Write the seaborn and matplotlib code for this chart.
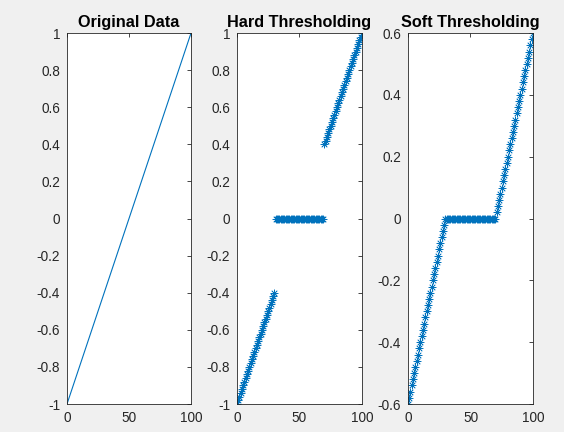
import matplotlib
matplotlib.use('Agg')
import matplotlib.pyplot as plt
import seaborn as sns

sns.set_style('white')
plt.rcParams['font.family'] = ['Liberation Sans', 'DejaVu Sans']

x = list(range(101))
original = [-1.00, -0.98, -0.96, -0.94, -0.92, -0.90, -0.88, -0.86, -0.84, -0.82,
            -0.80, -0.78, -0.76, -0.74, -0.72, -0.70, -0.68, -0.66, -0.64, -0.62,
            -0.60, -0.58, -0.56, -0.54, -0.52, -0.50, -0.48, -0.46, -0.44, -0.42,
            -0.40, -0.38, -0.36, -0.34, -0.32, -0.30, -0.28, -0.26, -0.24, -0.22,
            -0.20, -0.18, -0.16, -0.14, -0.12, -0.10, -0.08, -0.06, -0.04, -0.02,
            0.00, 0.02, 0.04, 0.06, 0.08, 0.10, 0.12, 0.14, 0.16, 0.18,
            0.20, 0.22, 0.24, 0.26, 0.28, 0.30, 0.32, 0.34, 0.36, 0.38,
            0.40, 0.42, 0.44, 0.46, 0.48, 0.50, 0.52, 0.54, 0.56, 0.58,
            0.60, 0.62, 0.64, 0.66, 0.68, 0.70, 0.72, 0.74, 0.76, 0.78,
            0.80, 0.82, 0.84, 0.86, 0.88, 0.90, 0.92, 0.94, 0.96, 0.98,
            1.00]
hard = [-1.00, -0.98, -0.96, -0.94, -0.92, -0.90, -0.88, -0.86, -0.84, -0.82,
        -0.80, -0.78, -0.76, -0.74, -0.72, -0.70, -0.68, -0.66, -0.64, -0.62,
        -0.60, -0.58, -0.56, -0.54, -0.52, -0.50, -0.48, -0.46, -0.44, -0.42,
        -0.40,
        0, 0, 0, 0, 0, 0, 0, 0, 0, 0, 0, 0, 0, 0, 0, 0, 0, 0, 0, 0,
        0, 0, 0, 0, 0, 0, 0, 0, 0, 0, 0, 0, 0, 0, 0, 0, 0, 0, 0,
        0.40, 0.42, 0.44, 0.46, 0.48, 0.50, 0.52, 0.54, 0.56, 0.58,
        0.60, 0.62, 0.64, 0.66, 0.68, 0.70, 0.72, 0.74, 0.76, 0.78,
        0.80, 0.82, 0.84, 0.86, 0.88, 0.90, 0.92, 0.94, 0.96, 0.98,
        1.00]
soft = [-0.60, -0.58, -0.56, -0.54, -0.52, -0.50, -0.48, -0.46, -0.44, -0.42,
        -0.40, -0.38, -0.36, -0.34, -0.32, -0.30, -0.28, -0.26, -0.24, -0.22,
        -0.20, -0.18, -0.16, -0.14, -0.12, -0.10, -0.08, -0.06, -0.04, -0.02,
        0.00,
        0, 0, 0, 0, 0, 0, 0, 0, 0, 0, 0, 0, 0, 0, 0, 0, 0, 0, 0, 0,
        0, 0, 0, 0, 0, 0, 0, 0, 0, 0, 0, 0, 0, 0, 0, 0, 0, 0, 0,
        0.00, 0.02, 0.04, 0.06, 0.08, 0.10, 0.12, 0.14, 0.16, 0.18,
        0.20, 0.22, 0.24, 0.26, 0.28, 0.30, 0.32, 0.34, 0.36, 0.38,
        0.40, 0.42, 0.44, 0.46, 0.48, 0.50, 0.52, 0.54, 0.56, 0.58,
        0.60]

titles = ['Original Data', 'Hard Thresholding', 'Soft Thresholding']
xticks = [0, 50, 100]
yticks_a = [-1, -0.8, -0.6, -0.4, -0.2, 0, 0.2, 0.4, 0.6, 0.8, 1]
yticks_b = [-0.6, -0.4, -0.2, 0, 0.2, 0.4, 0.6]

blue = '#0072bd'
dark = '#262626'
asterisk = (8, 2, 0)

fig = plt.figure(figsize=(5.64, 4.32), dpi=100, facecolor='#f0f0f0')
bottom, height = 0.0648, 0.8588
ax1 = fig.add_axes([0.1188, bottom, 0.2199, height])
ax2 = fig.add_axes([0.4202, bottom, 0.2216, height])
ax3 = fig.add_axes([0.7234, bottom, 0.2216, height])

sns.lineplot(x=x, y=original, ax=ax1, color=blue, linewidth=0.8)
sns.lineplot(x=x, y=hard, ax=ax2, color=blue, linestyle='', marker=asterisk,
             markersize=5.5, markeredgewidth=0.5, markeredgecolor=blue)
sns.lineplot(x=x, y=soft, ax=ax3, color=blue, linestyle='', marker=asterisk,
             markersize=5.5, markeredgewidth=0.5, markeredgecolor=blue)

for ax, title, yt in zip([ax1, ax2, ax3], titles, [yticks_a, yticks_a, yticks_b]):
    ax.set_facecolor('white')
    ax.set_xlim(0, 100)
    ax.set_ylim(yt[0], yt[-1])
    ax.set_xticks(xticks)
    ax.set_yticks(yt)
    ax.set_yticklabels([f'{v:g}' for v in yt])
    ax.tick_params(direction='in', length=3, width=0.6, colors=dark, labelsize=9.8,
                   top=True, right=True, pad=5)
    for s in ax.spines.values():
        s.set_visible(True)
        s.set_color(dark)
        s.set_linewidth(0.6)
    ax.set_title(title, fontsize=11.7, fontweight='bold', color='black', pad=4)
    ax.set_xlabel('')
    ax.set_ylabel('')

fig.savefig('out.png', dpi=100, facecolor=fig.get_facecolor())
